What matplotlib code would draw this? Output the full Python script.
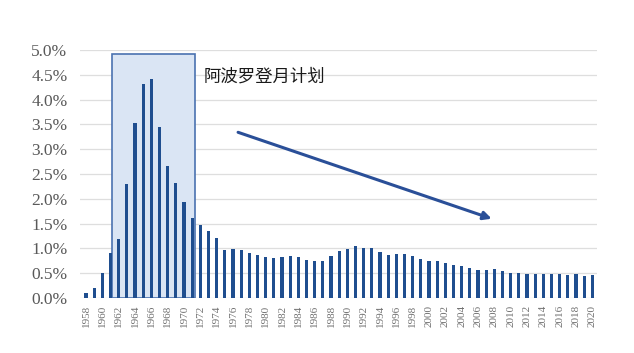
import matplotlib.pyplot as plt
from matplotlib.patches import Rectangle

years = list(range(1958, 2021))
share = [0.10, 0.20, 0.50, 0.90, 1.18, 2.30, 3.52, 4.32, 4.42, 3.45,
         2.66, 2.31, 1.93, 1.61, 1.48, 1.35, 1.21, 0.97, 0.99, 0.97,
         0.90, 0.86, 0.82, 0.81, 0.82, 0.84, 0.82, 0.76, 0.74, 0.75,
         0.84, 0.95, 0.98, 1.04, 1.00, 1.00, 0.93, 0.86, 0.88, 0.88,
         0.85, 0.79, 0.74, 0.74, 0.71, 0.67, 0.65, 0.61, 0.56, 0.57,
         0.59, 0.55, 0.51, 0.50, 0.49, 0.48, 0.49, 0.48, 0.49, 0.46,
         0.49, 0.45, 0.47]
yticks = [0, 0.5, 1.0, 1.5, 2.0, 2.5, 3.0, 3.5, 4.0, 4.5, 5.0]
label = '阿波罗登月计划'

plt.rcParams['font.family'] = ['Liberation Serif', 'DejaVu Serif']

fig = plt.figure(figsize=(6.34, 3.53), dpi=100)
ax = fig.add_axes([0.126, 0.156, 0.816, 0.702])

x = list(range(len(years)))
ax.bar(x, share, width=0.37, color='#1f4e8f', zorder=3)

# Apollo box
ax.add_patch(Rectangle((3.14, 0), 10.26, 4.92, facecolor='#dae5f4',
                       edgecolor='#4a72b0', linewidth=1.2, zorder=2))
ax.text(14.4, 4.46, label, fontsize=12.5, color='#1a1a1a', va='center',
        family=['Noto Sans CJK SC', 'DejaVu Sans'], zorder=4)

ax.annotate('', xy=(50.0, 1.58), xytext=(18.3, 3.36),
            arrowprops=dict(arrowstyle='-|>', color='#2a4f98', lw=2.2,
                            mutation_scale=12), zorder=4)

ax.set_xlim(-0.75, 62.6)
ax.set_ylim(0, 5.0)
ax.set_yticks(yticks)
ax.set_yticklabels(['%.1f%%' % v for v in yticks], fontsize=12.5, color='#595959')
ax.set_xticks(x[::2])
ax.set_xticklabels([str(y) for y in years[::2]], rotation=90, fontsize=8,
                   color='#707070')
ax.tick_params(axis='y', length=0, pad=9)
ax.tick_params(axis='x', length=0, pad=5)
ax.grid(axis='y', color='#dedede', linewidth=0.9, zorder=0)
ax.set_axisbelow(True)
for s in ax.spines.values():
    s.set_visible(False)

fig.savefig('out.png', dpi=100)
